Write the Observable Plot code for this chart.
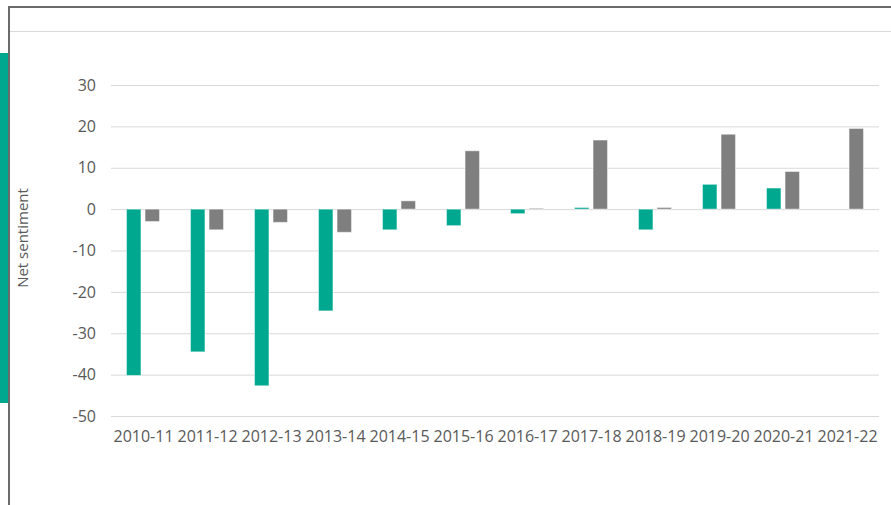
<!DOCTYPE html>
<html>
<head>
<meta charset="utf-8">
<script src="https://cdn.jsdelivr.net/npm/d3@7"></script>
<script src="https://cdn.jsdelivr.net/npm/@observablehq/plot@0.6"></script>
<style>
  body { margin: 0; background: #fff; }
  #c { position: relative; width: 891px; height: 505px; overflow: hidden; background: #fff; }
  .abs { position: absolute; }
  #c svg { position: absolute; left: 0; top: 0; }
  #ylab { position: absolute; left: 22px; top: 238px; transform: translate(-50%, -50%) rotate(-90deg);
          font-family: 'Open Sans', sans-serif; font-size: 15px; color: #595959; white-space: nowrap; }
</style>
</head>
<body>
<div id="c">
  <div class="abs" style="left:8px;top:6px;width:883px;height:2px;background:#6b6b6b"></div>
  <div class="abs" style="left:8px;top:6px;width:2px;height:499px;background:#6b6b6b"></div>
  <div class="abs" style="left:0;top:53px;width:8px;height:350px;background:#00a88f"></div>
  <div class="abs" style="left:10px;top:31px;width:881px;height:1px;background:#d9d9d9"></div>
  <div id="ylab">Net sentiment</div>
</div>
<script>
const years = ["2010-11","2011-12","2012-13","2013-14","2014-15","2015-16","2016-17","2017-18","2018-19","2019-20","2020-21","2021-22"];
const seriesNames = ["Series 1", "Series 2"];
const series1 = [-40.2, -34.5, -42.7, -24.6, -5.0, -4.0, -1.1, 0.4, -5.0, 6.0, 5.1, null];
const series2 = [-3.0, -5.0, -3.2, -5.6, 2.0, 14.1, 0.2, 16.7, 0.4, 18.1, 9.1, 19.5];
const yTicks = [-50, -40, -30, -20, -10, 0, 10, 20, 30];
const colors = ["#00a88f", "#7f7f7f"];

const rows = [];
years.forEach((y, i) => {
  rows.push({year: y, series: seriesNames[0], value: series1[i]});
  rows.push({year: y, series: seriesNames[1], value: series2[i]});
});

const font = "'Open Sans', sans-serif";

const chart = Plot.plot({
  width: 891,
  height: 505,
  marginLeft: 111,
  marginRight: 12,
  marginTop: 85,
  marginBottom: 89,
  style: {fontFamily: font, fontSize: "16px", color: "#595959", background: "transparent"},
  fx: {domain: years, paddingInner: 0.484, paddingOuter: 0.242, round: false, label: null},
  x: {domain: seriesNames, paddingInner: 0.22, paddingOuter: 0, round: false, axis: null},
  y: {domain: [-50, 30], ticks: yTicks, label: null},
  color: {domain: seriesNames, range: colors},
  marks: [
    Plot.ruleY(yTicks, {stroke: "#d9d9d9", strokeWidth: 1, insetLeft: -15.5, insetRight: -15.5}),
    Plot.barY(rows.filter(d => d.value != null), {fx: "year", x: "series", y: "value", fill: "series", stroke: "#ffffff", strokeOpacity: 0.5, strokeWidth: 1}),
    Plot.axisY({ticks: yTicks, tickSize: 0, tickPadding: 31, fontSize: 16, tickFormat: d => String(d), label: null}),
    Plot.axisFx({anchor: "bottom", tickSize: 0, tickPadding: 14, fontSize: 16, label: null})
  ]
});
document.getElementById("c").appendChild(chart);
</script>
</body>
</html>
